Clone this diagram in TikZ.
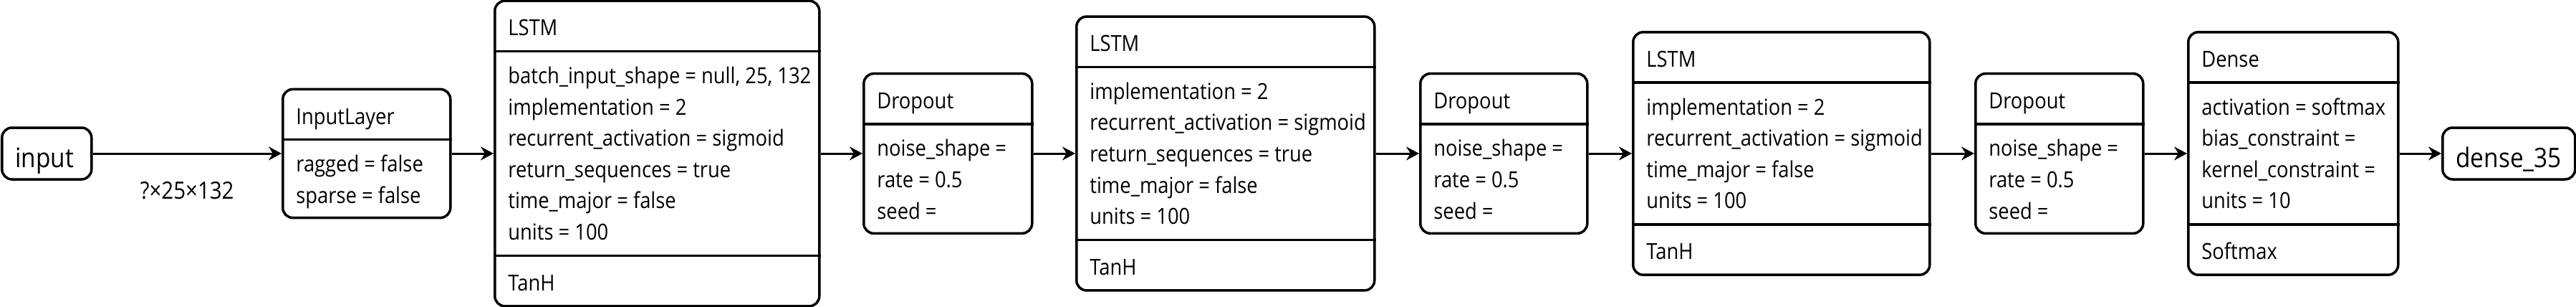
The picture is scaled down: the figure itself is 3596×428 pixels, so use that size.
\documentclass[tikz,border=0pt]{standalone}
\usepackage{fontspec}
\setmainfont{Open Sans}
\usetikzlibrary{arrows.meta,calc}
\newfontfamily\measfont{Open Sans}
\newlength\reflen
\newlength\wsum
\newcommand\mfs{\measfont\fontsize{15.4pt}{18pt}\selectfont}
\settowidth\reflen{\mfs batch\_input\_shape = null, 25, 132}
\setbox0\hbox{\mfs implementation = 2}\wsum=\wd0
\setbox0\hbox{\mfs recurrent\_activation = sigmoid}\advance\wsum by \wd0
\setbox0\hbox{\mfs return\_sequences = true}\advance\wsum by \wd0
\setbox0\hbox{\mfs time\_major = false}\advance\wsum by \wd0
\setbox0\hbox{\mfs units = 100}\advance\wsum by \wd0
\setbox0\hbox{\mfs TanH}\advance\wsum by \wd0
\setbox0\hbox{\mfs LSTM}\advance\wsum by \wd0
\setbox0\hbox{\mfs InputLayer}\advance\wsum by \wd0
\pgfmathsetmacro\sw{795.5/\wsum}
\pgfmathsetmacro\sb{212/\reflen}
\pgfmathsetmacro\stretchf{min(\sw,\sb)}
\edef\mkfont{\noexpand\newfontfamily\noexpand\labfont{Open Sans}[FakeStretch=\stretchf]}
\mkfont
\tikzset{
  layerbox/.style={draw, line width=1.75pt, rounded corners=7pt, inner sep=0pt, anchor=west, fill=white},
  sepline/.style={line width=1.75pt},
  conn/.style={line width=1.5pt, -{Stealth[length=9pt,width=9.5pt,inset=3pt]}},
  txt/.style={inner sep=0pt, anchor=base west, font=\labfont\fontsize{15.4pt}{18pt}\selectfont},
  endtxt/.style={inner sep=0pt, anchor=base west, font=\labfont\fontsize{18.8pt}{22pt}\selectfont},
  lbl/.style={inner sep=0pt, anchor=base, font=\labfont\fontsize{16.6pt}{20pt}\selectfont},
}
\begin{document}
\begin{tikzpicture}[x=0.5pt,y=-0.5pt]
\useasboundingbox[fill=white] (0,0) rectangle (3596,428);

% input
\node[layerbox, minimum width=62.5pt, minimum height=36pt] (input) at (1,214) {};
\node[endtxt] (inputT) at ($(input.west)+(20,19)$) {input};

% InputLayer
\node[layerbox, minimum width=117pt, minimum height=89.6pt] (inl) at (393,214) {};
\draw[sepline] ($(inl.north west)+(0,72)$) -- ($(inl.north east)+(0,72)$);
\node[txt] (inlT) at ($(inl.north west)+(20,50.5)$) {InputLayer};
\node[txt] (inlA) at ($(inl.north west)+(20,117)$) {ragged = false};
\node[txt] (inlB) at ($(inl.north west)+(20,160.6)$) {sparse = false};

% LSTM 1
\node[layerbox, minimum width=226.5pt, minimum height=212.8pt] (l1) at (689,214) {};
\draw[sepline] ($(l1.north west)+(0,72)$) -- ($(l1.north east)+(0,72)$);
\draw[sepline] ($(l1.south west)+(0,-72)$) -- ($(l1.south east)+(0,-72)$);
\node[txt] (l1T) at ($(l1.north west)+(20,50.5)$) {LSTM};
\node[txt] (l1A) at ($(l1.north west)+(20,117)$) {batch\_input\_shape = null, 25, 132};
\node[txt] (l1B) at ($(l1.north west)+(20,160.6)$) {implementation = 2};
\node[txt] (l1C) at ($(l1.north west)+(20,204.2)$) {recurrent\_activation = sigmoid};
\node[txt] (l1D) at ($(l1.north west)+(20,247.8)$) {return\_sequences = true};
\node[txt] (l1E) at ($(l1.north west)+(20,291.4)$) {time\_major = false};
\node[txt] (l1F) at ($(l1.north west)+(20,335)$) {units = 100};
\node[txt] (l1G) at ($(l1.south west)+(20,-23)$) {TanH};

% Dropout 1
\node[layerbox, minimum width=117.5pt, minimum height=111.4pt] (d1) at (1204,214) {};
\draw[sepline] ($(d1.north west)+(0,72)$) -- ($(d1.north east)+(0,72)$);
\node[txt] (d1T) at ($(d1.north west)+(20,50.5)$) {Dropout};
\node[txt] (d1A) at ($(d1.north west)+(20,117)$) {noise\_shape =};
\node[txt] (d1B) at ($(d1.north west)+(20,160.6)$) {rate = 0.5};
\node[txt] (d1C) at ($(d1.north west)+(20,204.2)$) {seed =};

% LSTM 2
\node[layerbox, minimum width=208pt, minimum height=190.9pt] (l2) at (1501,214) {};
\draw[sepline] ($(l2.north west)+(0,72)$) -- ($(l2.north east)+(0,72)$);
\draw[sepline] ($(l2.south west)+(0,-72)$) -- ($(l2.south east)+(0,-72)$);
\node[txt] (l2T) at ($(l2.north west)+(20,50.5)$) {LSTM};
\node[txt] (l2A) at ($(l2.north west)+(20,117)$) {implementation = 2};
\node[txt] (l2B) at ($(l2.north west)+(20,160.6)$) {recurrent\_activation = sigmoid};
\node[txt] (l2C) at ($(l2.north west)+(20,204.2)$) {return\_sequences = true};
\node[txt] (l2D) at ($(l2.north west)+(20,247.8)$) {time\_major = false};
\node[txt] (l2E) at ($(l2.north west)+(20,291.4)$) {units = 100};
\node[txt] (l2G) at ($(l2.south west)+(20,-23)$) {TanH};

% Dropout 2
\node[layerbox, minimum width=116.5pt, minimum height=111.4pt] (d2) at (1981,214) {};
\draw[sepline] ($(d2.north west)+(0,72)$) -- ($(d2.north east)+(0,72)$);
\node[txt] (d2T) at ($(d2.north west)+(20,50.5)$) {Dropout};
\node[txt] (d2A) at ($(d2.north west)+(20,117)$) {noise\_shape =};
\node[txt] (d2B) at ($(d2.north west)+(20,160.6)$) {rate = 0.5};
\node[txt] (d2C) at ($(d2.north west)+(20,204.2)$) {seed =};

% LSTM 3
\node[layerbox, minimum width=207pt, minimum height=169.2pt] (l3) at (2278,214) {};
\draw[sepline] ($(l3.north west)+(0,72)$) -- ($(l3.north east)+(0,72)$);
\draw[sepline] ($(l3.south west)+(0,-72)$) -- ($(l3.south east)+(0,-72)$);
\node[txt] (l3T) at ($(l3.north west)+(20,50.5)$) {LSTM};
\node[txt] (l3A) at ($(l3.north west)+(20,117)$) {implementation = 2};
\node[txt] (l3B) at ($(l3.north west)+(20,160.6)$) {recurrent\_activation = sigmoid};
\node[txt] (l3C) at ($(l3.north west)+(20,204.2)$) {time\_major = false};
\node[txt] (l3D) at ($(l3.north west)+(20,247.8)$) {units = 100};
\node[txt] (l3G) at ($(l3.south west)+(20,-23)$) {TanH};

% Dropout 3
\node[layerbox, minimum width=117pt, minimum height=111.4pt] (d3) at (2756,214) {};
\draw[sepline] ($(d3.north west)+(0,72)$) -- ($(d3.north east)+(0,72)$);
\node[txt] (d3T) at ($(d3.north west)+(20,50.5)$) {Dropout};
\node[txt] (d3A) at ($(d3.north west)+(20,117)$) {noise\_shape =};
\node[txt] (d3B) at ($(d3.north west)+(20,160.6)$) {rate = 0.5};
\node[txt] (d3C) at ($(d3.north west)+(20,204.2)$) {seed =};

% Dense
\node[layerbox, minimum width=146.5pt, minimum height=169.2pt] (dn) at (3053,214) {};
\draw[sepline] ($(dn.north west)+(0,72)$) -- ($(dn.north east)+(0,72)$);
\draw[sepline] ($(dn.south west)+(0,-72)$) -- ($(dn.south east)+(0,-72)$);
\node[txt] (dnT) at ($(dn.north west)+(20,50.5)$) {Dense};
\node[txt] (dnA) at ($(dn.north west)+(20,117)$) {activation = softmax};
\node[txt] (dnB) at ($(dn.north west)+(20,160.6)$) {bias\_constraint =};
\node[txt] (dnC) at ($(dn.north west)+(20,204.2)$) {kernel\_constraint =};
\node[txt] (dnD) at ($(dn.north west)+(20,247.8)$) {units = 10};
\node[txt] (dnG) at ($(dn.south west)+(20,-23)$) {Softmax};

% output
\node[layerbox, minimum width=92.5pt, minimum height=36pt] (out) at (3408,214) {};
\node[endtxt] (outT) at ($(out.west)+(20,19)$) {dense\_35};

% connectors
\draw[conn] (input.east) -- node[lbl, yshift=-31.5pt] (shape1) {?×25×132} (inl.west);
\draw[conn] (inl.east) -- (l1.west);
\draw[conn] (l1.east) -- (d1.west);
\draw[conn] (d1.east) -- (l2.west);
\draw[conn] (l2.east) -- (d2.west);
\draw[conn] (d2.east) -- (l3.west);
\draw[conn] (l3.east) -- (d3.west);
\draw[conn] (d3.east) -- (dn.west);
\draw[conn] (dn.east) -- (out.west);
\end{tikzpicture}
\end{document}
